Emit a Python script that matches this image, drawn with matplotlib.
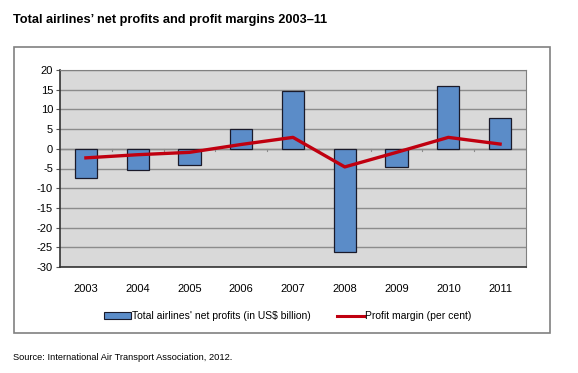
import numpy as np
import matplotlib.pyplot as plt
from matplotlib.patches import Rectangle
from matplotlib.lines import Line2D

years = ["2003", "2004", "2005", "2006", "2007", "2008", "2009", "2010", "2011"]
net_profits = [-7.4, -5.5, -4.1, 5.0, 14.7, -26.1, -4.6, 16.0, 7.9]
profit_margin = [-2.3, -1.5, -0.9, 1.1, 2.9, -4.6, -0.9, 2.9, 1.2]

plt.rcParams["font.family"] = ["Liberation Sans Narrow", "Liberation Sans", "DejaVu Sans"]
plt.rcParams["axes.unicode_minus"] = False

fig = plt.figure(figsize=(5.78, 3.73), dpi=100)
ax = fig.add_axes([60 / 578, 1 - 267 / 373, 466 / 578, 197 / 373])

x = np.arange(len(years))
ax.set_facecolor("#d9d9d9")
ax.set_axisbelow(True)
ax.yaxis.grid(True, color="#8c8c8c", linewidth=1.0)
ax.bar(x, net_profits, width=0.43, color="#5b8cc8", edgecolor="#1a1a2a", linewidth=0.9, zorder=2)
ax.plot(x, profit_margin, color="#c00010", linewidth=2.4, zorder=3)

ax.set_ylim(-30, 20)
ax.set_yticks(range(-30, 21, 5))
ax.set_xlim(-0.5, len(years) - 0.5)
ax.set_xticks(x)
ax.set_xticklabels(years)
ax.tick_params(axis="x", length=0, pad=12, labelsize=8)
ax.tick_params(axis="y", length=3, labelsize=8, color="#555555", pad=2)
for s in ["top", "right"]:
    ax.spines[s].set_color("#808080")
ax.spines["left"].set_color("#333333")
ax.spines["bottom"].set_color("#333333")
ax.spines["left"].set_linewidth(1.2)
ax.spines["bottom"].set_linewidth(1.2)
ax.axhline(0, color="#8c8c8c", linewidth=1.0, zorder=1)
for b in np.arange(0.5, len(years) - 1, 1.0):
    ax.plot([b, b], [0, -0.6], color="#8c8c8c", linewidth=0.8, zorder=1)

handles = [
    Rectangle((0, 0), 1, 1, facecolor="#5b8cc8", edgecolor="#1a1a2a", linewidth=0.8),
    Line2D([0], [0], color="#c00010", linewidth=2.2),
]
fig.legend(handles, ["Total airlines' net profits (in US$ billion)", "Profit margin (per cent)"],
           loc="center", bbox_to_anchor=(288 / 578, 1 - 316 / 373), ncol=2, frameon=False,
           fontsize=7.5, handlelength=2.6, handleheight=0.6, handletextpad=0.1, columnspacing=2.5)

fig.patches.append(Rectangle((14 / 578, 1 - 333 / 373), 536 / 578, 286 / 373,
                             transform=fig.transFigure, fill=False,
                             edgecolor="#808080", linewidth=1.2))

fig.text(13 / 578, 1 - 20 / 373, "Total airlines\u2019 net profits and profit margins 2003\u201311",
         fontsize=9.2, fontweight="bold", va="center", ha="left")
fig.text(13 / 578, 1 - 357 / 373, "Source: International Air Transport Association, 2012.",
         fontsize=6.7, va="center", ha="left")

fig.savefig("out.png", dpi=100)
